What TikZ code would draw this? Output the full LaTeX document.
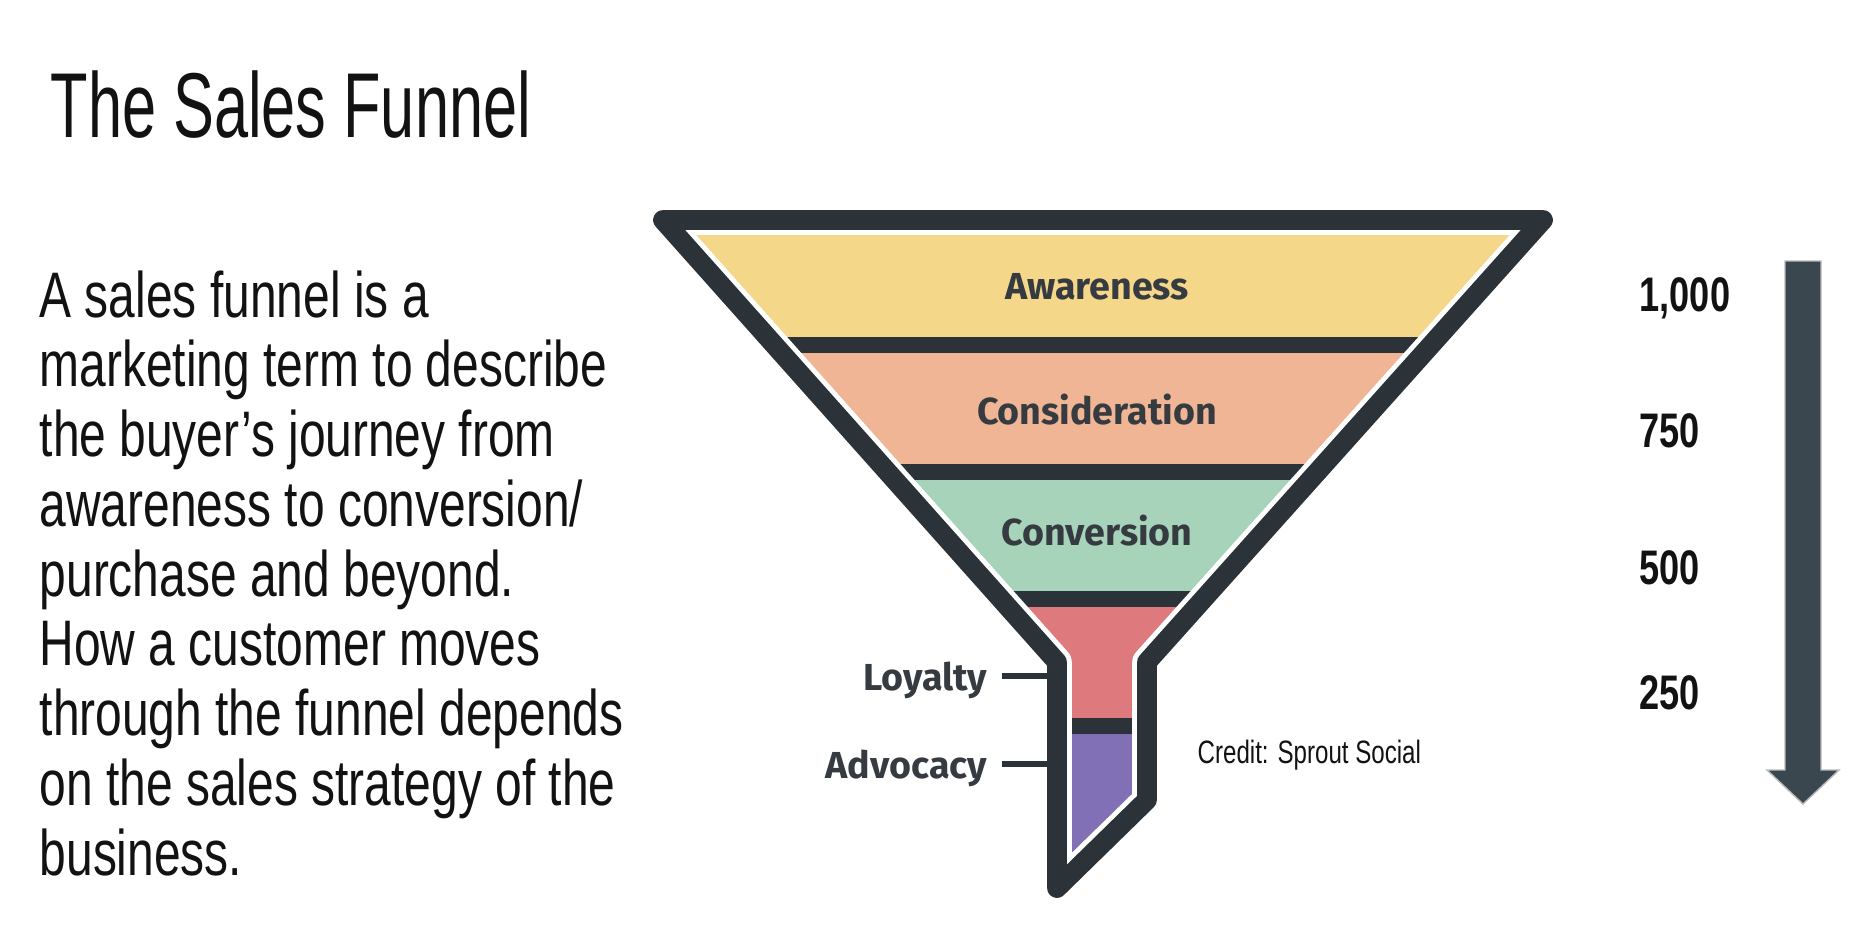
\documentclass[tikz,border=0pt]{standalone}
\usepackage{fontspec}
\setmainfont{Liberation Sans}[FakeStretch=0.745]
\newfontfamily\titlefont{Liberation Sans}[FakeStretch=0.665]
\newfontfamily\stagefont{Fira Sans}
\definecolor{funneldark}{HTML}{2B3238}
\definecolor{awareyellow}{HTML}{F5D78A}
\definecolor{considpeach}{HTML}{EFB594}
\definecolor{convmint}{HTML}{A6D3BA}
\definecolor{loyalpink}{HTML}{DE7A7E}
\definecolor{advpurple}{HTML}{8170B5}
\definecolor{arrowslate}{HTML}{3B474F}
\definecolor{stagetext}{HTML}{353B40}

\begin{document}
\begin{tikzpicture}[x=0.01cm, y=-0.01cm,
    stage/.style={font=\stagefont\bfseries\fontsize{10.7}{12}\selectfont, text=stagetext, inner sep=0pt},
    side/.style={stage, anchor=east, text depth=0pt},
    tick/.style={line width=1.7pt, funneldark},
    count/.style={font=\bfseries\fontsize{13.8}{15}\selectfont, text=black!93, anchor=base west, inner sep=0pt}]
    \useasboundingbox (0,0) rectangle (1866,932);

    % 标题
    \node[anchor=base west, inner sep=0pt, text=black!93,
      font=\titlefont\fontsize{26.2}{30}\selectfont] (title) at (50,137) {The Sales Funnel};
    % 说明文字 (base = 最后一行)
    \node[anchor=base west, align=left, inner sep=0pt, text=black!93,
      font=\fontsize{18.3}{19.83}\selectfont] (body) at (39,875)
      {A sales funnel is a\\
       marketing term to describe\\
       the buyer’s journey from\\
       awareness to conversion/\\
       purchase and beyond.\\
       How a customer moves\\
       through the funnel depends\\
       on the sales strategy of the\\
       business.};

    % 漏斗
    \coordinate (TL) at (663,220);
    \coordinate (TR) at (1543,220);
    \coordinate (RK) at (1147,662);
    \coordinate (RB) at (1147,800);
    \coordinate (LB) at (1057,888);
    \coordinate (LK) at (1057,662);

    \begin{scope}
      \clip (TL) -- (TR) -- (RK) -- (RB) -- (LB) -- (LK) -- cycle;
      \foreach \c/\ya/\yb in {awareyellow/200/337, considpeach/337/464, convmint/464/591, loyalpink/591/718, advpurple/718/950}
        \fill[\c] (600,\ya) rectangle (1600,\yb);
      % 分隔条
      \foreach \y in {337,464,591,718}
        \fill[funneldark] (600,\y) rectangle (1600,\y+16);
    \end{scope}
    \draw[white, line width=8.4pt, line join=round] (TL) -- (TR) -- (RK) -- (RB) -- (LB) -- (LK) -- cycle;
    \draw[funneldark, line width=5.6pt, line join=round] (TL) -- (TR) -- (RK) -- (RB) -- (LB) -- (LK) -- cycle;

    % 阶段名称
    \node[stage, anchor=base] (aware) at (1097,299) {Awareness};
    \node[stage, anchor=base] (consid) at (1097,424) {Consideration};
    \node[stage, anchor=base] (conv) at (1097,545) {Conversion};
    \node[side] (loyal) at (988,676) {Loyalty};
    \node[side] (advoc) at (988,764) {Advocacy};
    \coordinate (stemL) at (1052,700);
    \draw[tick] ([xshift=0.14cm]loyal.east) -- (loyal.east -| stemL);
    \draw[tick] ([xshift=0.14cm]advoc.east) -- (advoc.east -| stemL);

    \node[anchor=base west, inner sep=0pt, text=black!93,
      font=\fontsize{9.2}{11}\selectfont] (credit) at (1197,763) {Credit: Sprout Social};

    % 数量
    \foreach \n/\y [count=\i] in {{1,000}/311, 750/447, 500/584, 250/709}
      \node[count] (num\i) at (1639,\y) {\n};
    % 箭头
    \filldraw[fill=arrowslate, draw=gray!55, line width=0.4pt]
      (1785,261) -- (1821,261) -- (1821,770) -- (1839,770) -- (1803,804)
      -- (1767,770) -- (1785,770) -- cycle;
\end{tikzpicture}
\end{document}
